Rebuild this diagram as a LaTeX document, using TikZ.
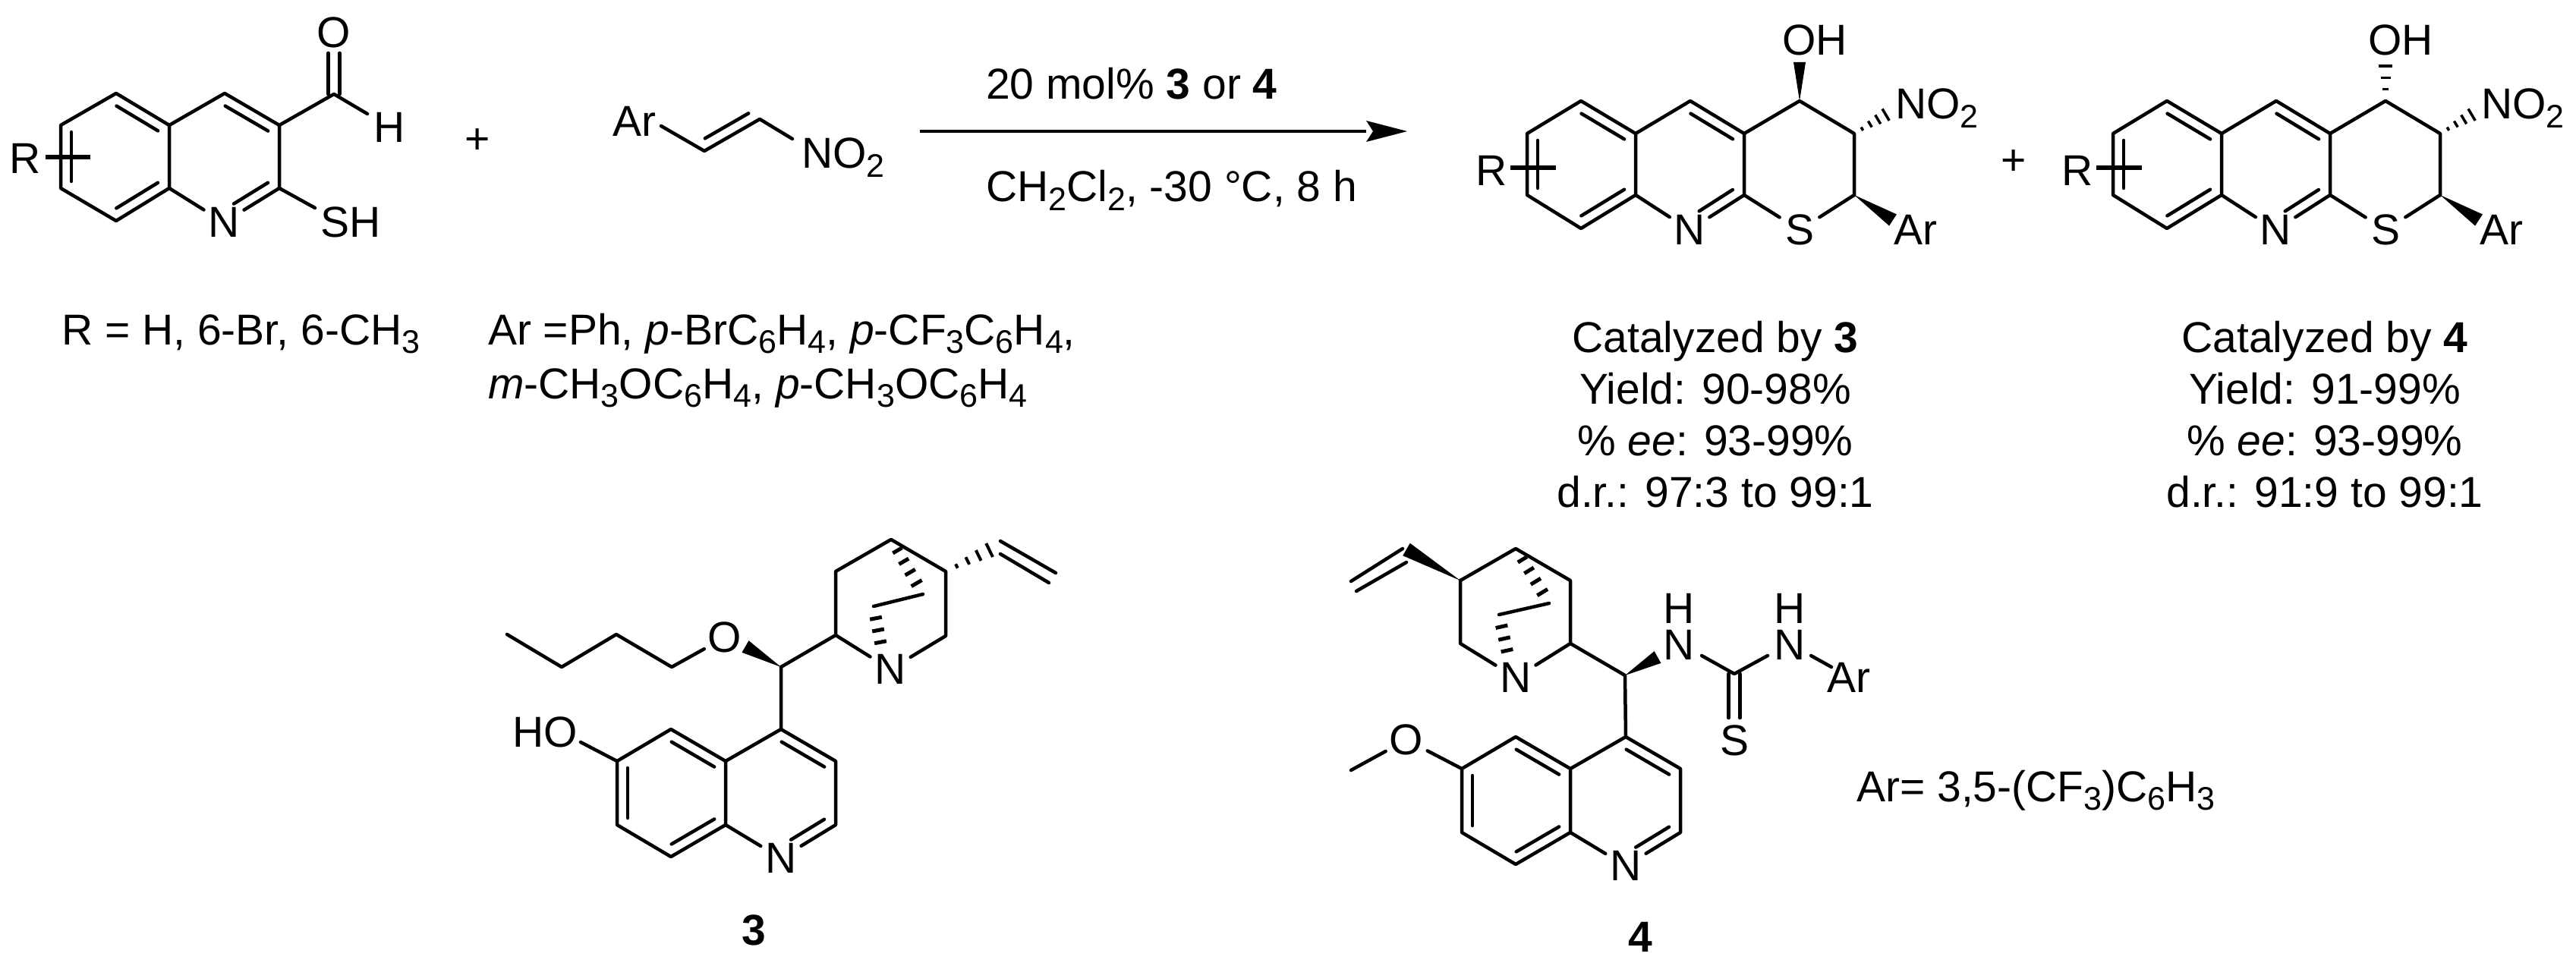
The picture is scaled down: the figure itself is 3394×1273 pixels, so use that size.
\documentclass[tikz,border=0pt]{standalone}
\usepackage{fontspec}
\setmainfont{Liberation Sans}
\usetikzlibrary{calc}
\newcommand\subs[1]{\raisebox{-.21em}{\fontsize{43}{48}\selectfont #1}}
% inner line of a double bond, on the right of a->b
\newcommand\dbl[3][9pt]{\draw[bond] ($(#2)!9pt!(#3)!14pt!-90:(#3)$) -- ($(#3)!#1!(#2)!14pt!90:(#2)$);}
% symmetric double bond
\newcommand\sym[2]{\draw[bond] ($(#1)!7.5pt!90:(#2)$) -- ($(#2)!7.5pt!-90:(#1)$);
  \draw[bond] ($(#1)!7.5pt!-90:(#2)$) -- ($(#2)!7.5pt!90:(#1)$);}
\newcommand\wedgeb[3]{\fill (#1) -- ($(#2)!#3!90:(#1)$) -- ($(#2)!#3!-90:(#1)$) -- cycle;}
\newcommand\hashb[6][4pt]{\foreach \i in {1,...,#4}{%
  \pgfmathsetmacro\hfrac{\i/(#4+1)}%
  \pgfmathsetmacro\hw{#5+(#6-#5)*(\i-1)/max(#4-1,1)}%
  \draw[bond,line width=#1,line cap=butt] ($(#2)!\hfrac!(#3)!\hw pt!90:(#3)$) -- ($(#2)!\hfrac!(#3)!\hw pt!-90:(#3)$);}}
\newcommand\chromene[1]{%
  \coordinate (#1a) at (2012,176); \coordinate (#1b) at (2083,133); \coordinate (#1c) at (2155,176);
  \coordinate (#1d) at (2155,257); \coordinate (#1e) at (2083,301); \coordinate (#1f) at (2012,257);
  \coordinate (#1g) at (2227,133); \coordinate (#1h) at (2298,176); \coordinate (#1i) at (2298,257);
  \coordinate (#1j) at (2371,133); \coordinate (#1k) at (2443,176); \coordinate (#1l) at (2443,257);
  \node[atom] (#1N) at (2226,303) {N};
  \node[atom] (#1S) at (2371,303) {S};
  \node[lbl] (#1R) at (1965,225) {R};
  \node[lbl,anchor=base west] (#1no) at (2497,157) {NO\subs{2}};
  \node[lbl,anchor=base west] (#1ar) at (2495,323) {Ar};
  \node[lbl] (#1oh) at (2391,53) {OH};
  \coordinate (#1ra) at (1990,221); \coordinate (#1rb) at (2050,221);
  \coordinate (#1nh) at (2495,145); \coordinate (#1aw) at (2494,290);
  \coordinate (#1w) at (2371,82); \coordinate (#1x) at (2371,72);
  \draw[bond] (#1a)--(#1b)--(#1c)--(#1d)--(#1e)--(#1f)--cycle;
  \draw[bond] (#1c)--(#1g)--(#1h)--(#1i);
  \draw[bond] (#1h)--(#1j)--(#1k)--(#1l);
  \draw[bond] (#1d)--(#1N) (#1N)--(#1i) (#1i)--(#1S) (#1S)--(#1l);
  \draw[bond,line width=5.5pt,line cap=butt] (#1ra)--(#1rb);
  \dbl{#1f}{#1a}\dbl{#1b}{#1c}\dbl{#1d}{#1e}\dbl{#1g}{#1h}\dbl[24pt]{#1i}{#1N}
  \hashb[3.5pt]{#1k}{#1nh}{4}{2.5}{9}
  \wedgeb{#1l}{#1aw}{9pt}
}
\newcommand\quinoline[1]{%
  \coordinate (#1a) at (1029,961); \coordinate (#1b) at (1101,1003); \coordinate (#1c) at (1101,1087);
  \node[atom] (#1N) at (1029,1131) {N};
  \coordinate (#1e) at (956,1087); \coordinate (#1f) at (956,1003); \coordinate (#1g) at (884,961);
  \coordinate (#1h) at (813,1003); \coordinate (#1i) at (813,1087); \coordinate (#1j) at (884,1129);
  \draw[bond] (#1a)--(#1b)--(#1c)--(#1N) (#1N)--(#1e)--(#1f)--(#1a);
  \draw[bond] (#1f)--(#1g)--(#1h)--(#1i)--(#1j)--(#1e);
  \dbl{#1a}{#1b}\dbl[24pt]{#1c}{#1N}\dbl{#1g}{#1f}\dbl{#1i}{#1h}\dbl{#1e}{#1j}
}
\begin{document}
\begin{tikzpicture}[x=1pt,y=-1pt,
  bond/.style={line width=4.5pt,line cap=round,line join=round},
  lbl/.style={inner sep=0pt,font=\fontsize{57}{68}\selectfont},
  atom/.style={lbl,circle,minimum size=62pt},
  txt/.style={lbl,anchor=base west},
  ctr/.style={lbl,anchor=base},
  nh/.style={lbl,align=center,font=\fontsize{57}{48}\selectfont},
  numlab/.style={lbl,font=\fontsize{57}{68}\selectfont\bfseries}]
\useasboundingbox (0,0) rectangle (3394,1273);
% ---- quinoline aldehyde
\coordinate (a1) at (80,165); \coordinate (a2) at (153,123); \coordinate (a3) at (223,165);
\coordinate (a4) at (223,248); \coordinate (a5) at (153,291); \coordinate (a6) at (80,248);
\coordinate (a7) at (296,123); \coordinate (a8) at (368,165); \coordinate (a9) at (368,248);
\coordinate (ac) at (440,124); \coordinate (ao) at (440,70); \coordinate (ah) at (484,150);
\coordinate (as) at (415,274); \coordinate (ara) at (60,207); \coordinate (arb) at (119,207);
\node[atom] (aN) at (295,293) {N};
\node[lbl] (aO) at (440,43) {O};
\node[lbl] (aH) at (513,168) {H};
\node[lbl] (aSH) at (462,293) {SH};
\node[lbl] (aR) at (33,209) {R};
\draw[bond] (a1)--(a2)--(a3)--(a4)--(a5)--(a6)--cycle;
\draw[bond] (a3)--(a7)--(a8)--(a9);
\draw[bond] (a4)--(aN) (aN)--(a9)--(as);
\draw[bond] (a8)--(ac)--(ah);
\sym{ac}{ao}
\draw[bond,line width=5.5pt,line cap=butt] (ara)--(arb);
\dbl{a6}{a1}\dbl{a2}{a3}\dbl{a4}{a5}\dbl{a7}{a8}\dbl[24pt]{a9}{aN}
\node[lbl] (plusa) at (629,186) {+};
% ---- nitroalkene
\node[lbl] (nAr) at (836,160) {Ar};
\node[txt] (nNO) at (1056,222) {NO\subs{2}};
\coordinate (n1) at (871,166); \coordinate (n2) at (928,199); \coordinate (n3) at (1001,157); \coordinate (n4) at (1044,183);
\draw[bond] (n1)--(n2)--(n3)--(n4);
\dbl{n3}{n2}
% ---- arrow
\coordinate (arS) at (1212,173); \coordinate (arE) at (1800,173); \coordinate (arT) at (1854,173);
\coordinate (arU) at (1800,159); \coordinate (arL) at (1800,187); \coordinate (arN) at (1809,173);
\draw[line width=4pt] (arS)--(arE);
\fill (arT)--(arU)--(arN)--(arL)--cycle;
\node[txt] (cond1) at (1299,131) {20 mol\% \textbf{3} or \textbf{4}};
\node[txt] (cond2) at (1299,266) {CH\subs{2}Cl\subs{2}, -30 °C, 8 h};
% ---- products
\chromene{p}
\wedgeb{pj}{pw}{8pt}
\begin{scope}[shift={(772,0)}]
\chromene{r}
\end{scope}
\hashb[3.5pt]{rj}{rx}{3}{4}{9}
\node[lbl] (plusb) at (2653,214) {+};
% ---- captions
\node[txt] (rlist) at (81,454) {R = H, 6-Br, 6-CH\subs{3}};
\node[txt] (ar1) at (643,454) {Ar =Ph, \textit{p}-BrC\subs{6}H\subs{4}, \textit{p}-CF\subs{3}C\subs{6}H\subs{4},};
\node[txt] (ar2) at (643,525) {\textit{m}-CH\subs{3}OC\subs{6}H\subs{4}, \textit{p}-CH\subs{3}OC\subs{6}H\subs{4}};
\node[ctr] (l1) at (2260,464) {Catalyzed by \textbf{3}};
\node[ctr] (l2) at (2260,532) {Yield: 90-98\%};
\node[ctr] (l3) at (2260,600) {\% \textit{ee}: 93-99\%};
\node[ctr] (l4) at (2260,668) {d.r.: 97:3 to 99:1};
\node[ctr] (m1) at (3063,464) {Catalyzed by \textbf{4}};
\node[ctr] (m2) at (3063,532) {Yield: 91-99\%};
\node[ctr] (m3) at (3063,600) {\% \textit{ee}: 93-99\%};
\node[ctr] (m4) at (3063,668) {d.r.: 91:9 to 99:1};
% ---- catalyst 3
\quinoline{q}
\coordinate (b1) at (668,836); \coordinate (b2) at (740,879); \coordinate (b3) at (812,836); \coordinate (b4) at (885,879);
\coordinate (cs) at (1029,879); \coordinate (u1) at (1101,837); \coordinate (u2) at (1101,753); \coordinate (u3) at (1174,711);
\coordinate (u4) at (1246,753); \coordinate (u5) at (1246,838); \coordinate (ub) at (1216,783); \coordinate (uc) at (1151,799);
\coordinate (ud) at (1163,862); \coordinate (ow) at (982,852); \coordinate (vc) at (1318,718);
\coordinate (v1) at (1318,713); \coordinate (v2) at (1391,755); \coordinate (v3) at (1318,730); \coordinate (v4) at (1382,768);
\node[atom] (O3) at (955,840) {O};
\node[atom] (N3) at (1173,882) {N};
\node[lbl] (HO3) at (718,965) {HO};
\coordinate (ho) at (765,978);
\node[numlab] (n3lab) at (993,1226) {3};
\draw[bond] (b1)--(b2)--(b3)--(b4)--(O3);
\draw[bond] (cs)--(u1)--(u2)--(u3)--(u4)--(u5)--(N3) (N3)--(u1);
\draw[bond] (cs)--(qa) (ho)--(qh);
\draw[bond] (ub)--(uc);
\draw[bond] (v1)--(v2) (v3)--(v4);
\wedgeb{cs}{ow}{9pt}
\hashb[5pt]{u3}{ub}{4}{7}{8}
\hashb[5pt]{uc}{ud}{3}{8}{8}
\hashb[4pt]{u4}{vc}{4}{3}{10}
% ---- catalyst 4
\begin{scope}[shift={(1113,10)}]
\quinoline{s}
\end{scope}
\coordinate (d1) at (1924,765); \coordinate (d2) at (1997,723); \coordinate (d3) at (2069,765); \coordinate (d4) at (2069,848);
\coordinate (d5) at (1924,848); \coordinate (db) at (2041,795); \coordinate (dc) at (1975,810); \coordinate (dd) at (1989,873);
\coordinate (dw) at (1853,724); \coordinate (w1) at (1848,723); \coordinate (w2) at (1780,766); \coordinate (w3) at (1853,741); \coordinate (w4) at (1787,779);
\coordinate (ct) at (2141,890); \coordinate (tw) at (2184,866); \coordinate (tc) at (2285,888); \coordinate (te) at (2285,946);
\coordinate (me) at (1780,1015);
\coordinate (e1) at (2242,864); \coordinate (e2) at (2329,864); \coordinate (e3) at (2386,864); \coordinate (e4) at (2413,879);
\node[atom] (N4) at (1997,893) {N};
\node[nh] (Na) at (2212,826) {H\\N};
\node[nh] (Nb) at (2358,826) {H\\N};
\node[lbl] (S4) at (2285,976) {S};
\node[lbl] (Ar4) at (2436,893) {Ar};
\node[atom] (O4) at (1853,975) {O};
\node[numlab] (n4lab) at (2161,1235) {4};
\node[txt] (arlab) at (2446,1056) {Ar= 3,5-(CF\subs{3})C\subs{6}H\subs{3}};
\draw[bond] (d1)--(d2)--(d3)--(d4)--(ct)--(sa);
\draw[bond] (d1)--(d5)--(N4) (N4)--(d4);
\draw[bond] (db)--(dc);
\draw[bond] (w1)--(w2) (w3)--(w4);
\draw[bond] (e1)--(tc)--(e2) (e3)--(e4);
\sym{tc}{te}
\draw[bond] (sh)--(O4) (O4)--(me);
\wedgeb{d1}{dw}{9.5pt}
\wedgeb{ct}{tw}{9pt}
\hashb[5pt]{d2}{db}{4}{7}{8}
\hashb[5pt]{dc}{dd}{3}{8}{8}
\end{tikzpicture}
\end{document}
